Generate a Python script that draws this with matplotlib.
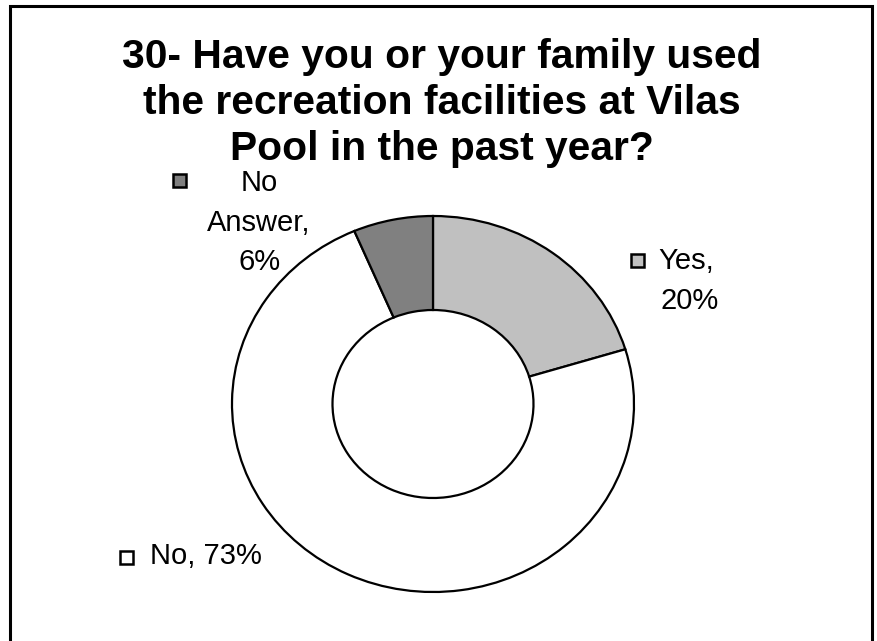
import matplotlib
matplotlib.use("Agg")
import matplotlib.pyplot as plt
from matplotlib.patches import Rectangle

categories = ["Yes", "No", "No Answer"]
values = [20.3, 73.3, 6.4]
colors = ["#C0C0C0", "#FFFFFF", "#808080"]
title_lines = ["30- Have you or your family used",
               "the recreation facilities at Vilas",
               "Pool in the past year?"]

W, H = 877, 641
fig = plt.figure(figsize=(W / 100, H / 100), dpi=100)
fig.patch.set_facecolor("white")

def fx(x):
    return x / W

def fy(y):
    return 1 - y / H

FONT = "Liberation Sans"

# outer frame (bottom edge beyond the image)
fig.patches.append(Rectangle((fx(9.7), fy(700)), fx(871.8) - fx(9.7), fy(6.3) - fy(700),
                             transform=fig.transFigure, fill=False, edgecolor="black",
                             linewidth=2.2, zorder=0))

# title
for i, line in enumerate(title_lines):
    fig.text(fx(442), fy(57 + 46 * i), line, ha="center", va="center",
             fontsize=29.3, fontweight="bold", family=FONT)

# donut axes
ax = fig.add_axes([fx(232), fy(592), fx(634) - fx(232), fy(216) - fy(592)])
ax.pie(values, colors=colors, startangle=90, counterclock=False,
       wedgeprops=dict(width=0.5, edgecolor="black", linewidth=1.6))
ax.set_aspect("auto")
ax.set_xlim(-1, 1)
ax.set_ylim(-1, 1)
ax.axis("off")

pct = [f"{round(v)}%" for v in values]

def key(cx, cy, color):
    s = 13
    fig.patches.append(Rectangle((fx(cx - s / 2), fy(cy + s / 2)), s / W, s / H,
                                 transform=fig.transFigure, facecolor=color,
                                 edgecolor="black", linewidth=1.8))

LFS = 21
# Yes
key(637, 260.5, colors[0])
fig.text(fx(658), fy(261), f"{categories[0]},", ha="left", va="center", fontsize=LFS, family=FONT)
fig.text(fx(689.5), fy(301), pct[0], ha="center", va="center", fontsize=LFS, family=FONT)
# No
key(126.5, 557.5, colors[1])
fig.text(fx(150), fy(556), f"{categories[1]}, {pct[1]}", ha="left", va="center", fontsize=LFS, family=FONT)
# No Answer
key(179.5, 181, colors[2])
w1, w2 = categories[2].split(" ")
fig.text(fx(259), fy(183), w1, ha="center", va="center", fontsize=LFS, family=FONT)
fig.text(fx(259), fy(223), f"{w2},", ha="center", va="center", fontsize=LFS, family=FONT)
fig.text(fx(260), fy(262), pct[2], ha="center", va="center", fontsize=LFS, family=FONT)

fig.savefig("out.png", dpi=100)
